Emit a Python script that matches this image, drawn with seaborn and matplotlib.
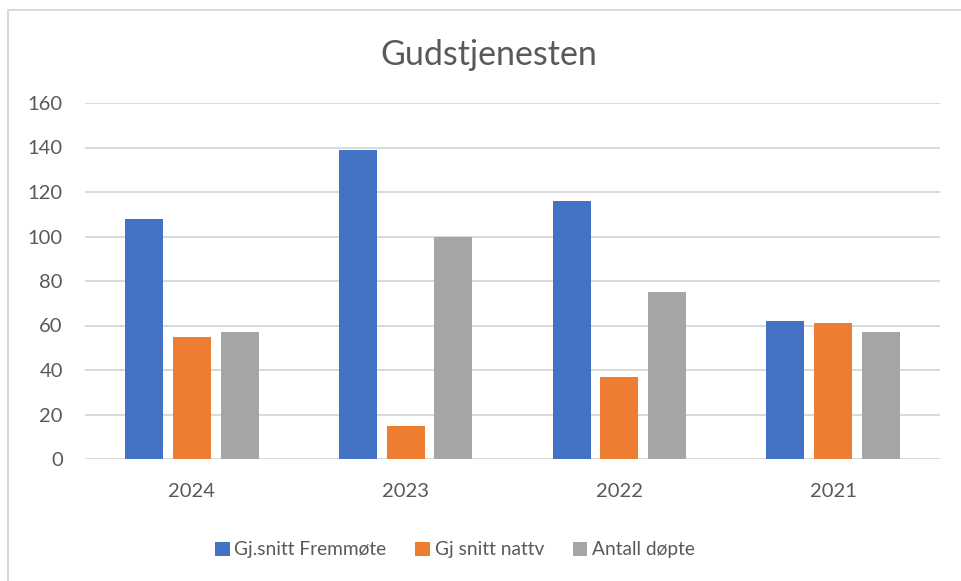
import matplotlib
matplotlib.use("Agg")
import matplotlib.pyplot as plt
import seaborn as sns
import pandas as pd
from matplotlib.patches import Patch
from matplotlib.lines import Line2D

years = ["2024", "2023", "2022", "2021"]
series_names = ["Gj.snitt Fremmøte", "Gj snitt nattv", "Antall døpte"]
fremmote = [108, 139, 116, 62]
nattv = [55, 15, 37, 61]
dopte = [57, 100, 75, 57]
colors = ["#4472C4", "#ED7D31", "#A5A5A5"]
yticks = [0, 20, 40, 60, 80, 100, 120, 140, 160]

rows = []
for name, vals in zip(series_names, [fremmote, nattv, dopte]):
    for y, v in zip(years, vals):
        rows.append({"year": y, "series": name, "value": v})
df = pd.DataFrame(rows)

sns.set_theme(style="white")
plt.rcParams["font.family"] = ["Lato", "DejaVu Sans"]
txt = "#595959"

fig = plt.figure(figsize=(9.61, 5.81), dpi=100)
ax = fig.add_axes([85/961, 1-459/581, (940-85)/961, (459-103)/581])

sns.barplot(data=df, x="year", y="value", hue="series", order=years,
            hue_order=series_names, palette=colors, saturation=1,
            width=0.67, gap=0.2, linewidth=0, ax=ax, legend=False)

ax.set_ylim(0, 160)
ax.set_yticks(yticks)
ax.set_yticklabels([str(t) for t in yticks])
ax.set_xlim(-0.5, len(years) - 0.5)
ax.set_xlabel("")
ax.set_ylabel("")
for s in ax.spines.values():
    s.set_visible(False)
ax.yaxis.grid(True, color="#D9D9D9", linewidth=1.4)
ax.set_axisbelow(True)
ax.tick_params(axis="both", length=0, labelsize=14.5, labelcolor=txt)
ax.tick_params(axis="x", pad=17)
ax.tick_params(axis="y", pad=16)

fig.text(489/961, 1-55/581, "Gudstjenesten", ha="center", va="center",
         fontsize=24.5, color=txt)

handles = [Patch(facecolor=c, edgecolor="none", label=n) for c, n in zip(colors, series_names)]
fig.legend(handles=handles, loc="center", bbox_to_anchor=(455/961, 1-550/581),
           ncol=3, frameon=False, fontsize=13.8, labelcolor=txt,
           handlelength=0.75, handleheight=0.75, handletextpad=0.25,
           columnspacing=1.5)

# chart area border (left and top only visible)
fig.add_artist(Line2D([7.5/961, 7.5/961], [0, 1-10/581], color="#D9D9D9", lw=1.5,
                      transform=fig.transFigure))
fig.add_artist(Line2D([7.5/961, 1], [1-10/581, 1-10/581], color="#D9D9D9", lw=1.5,
                      transform=fig.transFigure))

fig.savefig("out.png", dpi=100, facecolor="white")
